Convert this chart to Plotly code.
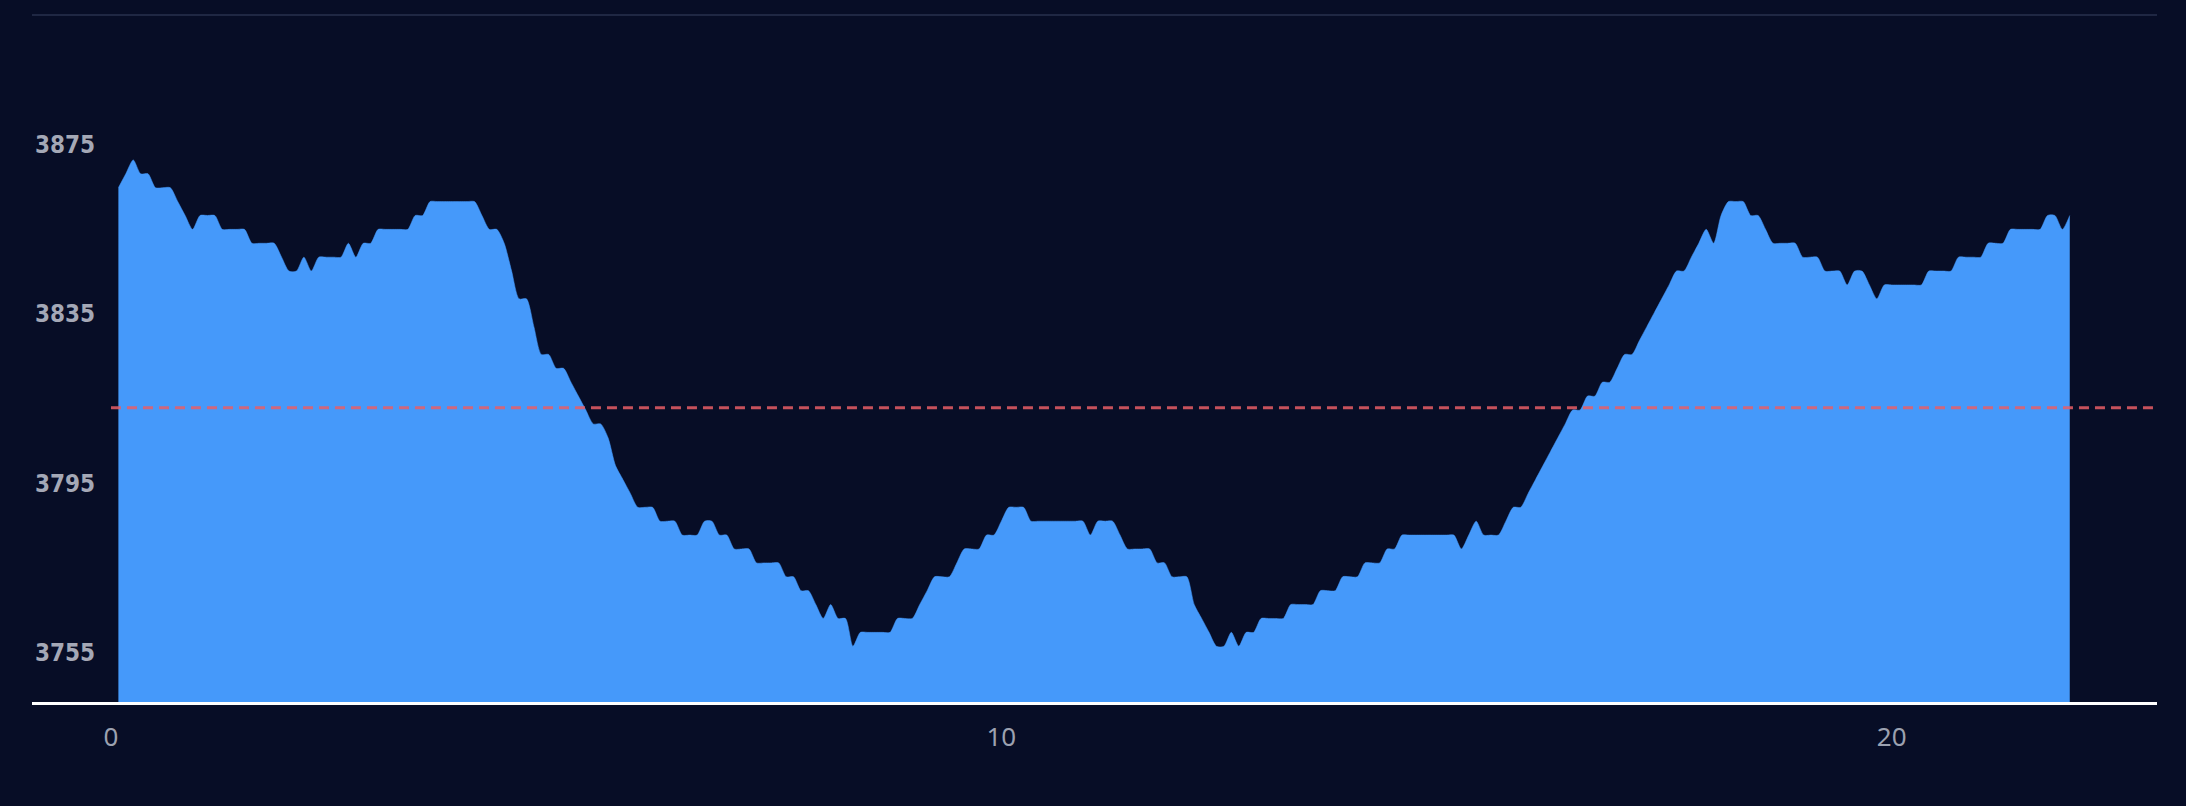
import plotly.graph_objects as go

# Elevation track, one reading every 5 minutes (metres above sea level)
elevation_m = [
    1178, 1179, 1180, 1179, 1179, 1178, 1178, 1178, 1177, 1176,
    1175, 1176, 1176, 1176, 1175, 1175, 1175, 1175, 1174, 1174,
    1174, 1174, 1173, 1172, 1172, 1173, 1172, 1173, 1173, 1173,
    1173, 1174, 1173, 1174, 1174, 1175, 1175, 1175, 1175, 1175,
    1176, 1176, 1177, 1177, 1177, 1177, 1177, 1177, 1177, 1176,
    1175, 1175, 1174, 1172, 1170, 1170, 1168, 1166, 1166, 1165,
    1165, 1164, 1163, 1162, 1161, 1161, 1160, 1158, 1157, 1156,
    1155, 1155, 1155, 1154, 1154, 1154, 1153, 1153, 1153, 1154,
    1154, 1153, 1153, 1152, 1152, 1152, 1151, 1151, 1151, 1151,
    1150, 1150, 1149, 1149, 1148, 1147, 1148, 1147, 1147, 1145,
    1146, 1146, 1146, 1146, 1146, 1147, 1147, 1147, 1148, 1149,
    1150, 1150, 1150, 1151, 1152, 1152, 1152, 1153, 1153, 1154,
    1155, 1155, 1155, 1154, 1154, 1154, 1154, 1154, 1154, 1154,
    1154, 1153, 1154, 1154, 1154, 1153, 1152, 1152, 1152, 1152,
    1151, 1151, 1150, 1150, 1150, 1148, 1147, 1146, 1145, 1145,
    1146, 1145, 1146, 1146, 1147, 1147, 1147, 1147, 1148, 1148,
    1148, 1148, 1149, 1149, 1149, 1150, 1150, 1150, 1151, 1151,
    1151, 1152, 1152, 1153, 1153, 1153, 1153, 1153, 1153, 1153,
    1153, 1152, 1153, 1154, 1153, 1153, 1153, 1154, 1155, 1155,
    1156, 1157, 1158, 1159, 1160, 1161, 1162, 1162, 1163, 1163,
    1164, 1164, 1165, 1166, 1166, 1167, 1168, 1169, 1170, 1171,
    1172, 1172, 1173, 1174, 1175, 1174, 1176, 1177, 1177, 1177,
    1176, 1176, 1175, 1174, 1174, 1174, 1174, 1173, 1173, 1173,
    1172, 1172, 1172, 1171, 1172, 1172, 1171, 1170, 1171, 1171,
    1171, 1171, 1171, 1171, 1172, 1172, 1172, 1172, 1173, 1173,
    1173, 1173, 1174, 1174, 1174, 1175, 1175, 1175, 1175, 1175,
    1176, 1176, 1175, 1176,
]

FT_PER_M = 3.28084
elevation_ft = [m * FT_PER_M for m in elevation_m]
hours = [(k + 1) / 12 for k in range(len(elevation_m))]

reference_ft = 3812.9
y_ticks = [3755, 3795, 3835, 3875]
x_ticks = [0, 10, 20]
x_range = [-0.887, 22.98]
y_range = [3743.4, 3905.6]

BG = "#070d26"
FILL = "#4599fa"

fig = go.Figure()
fig.add_trace(go.Scatter(
    x=hours,
    y=elevation_ft,
    mode="lines",
    line=dict(color=FILL, width=0.5, shape="spline", smoothing=0.7),
    fill="tozeroy",
    fillcolor=FILL,
    hoverinfo="skip",
    showlegend=False,
))

# reference level
fig.add_shape(type="line", xref="x", yref="y",
              x0=0, x1=x_range[1], y0=reference_ft, y1=reference_ft,
              line=dict(color="rgba(232,94,102,0.85)", width=3, dash="10px,6px"),
              layer="above")
# top frame rule
fig.add_shape(type="line", xref="paper", yref="paper",
              x0=0, x1=1, y0=1, y1=1,
              line=dict(color="#1f2743", width=2), layer="below")

fig.update_layout(
    width=2186, height=806,
    margin=dict(l=32, r=29, t=15, b=104),
    paper_bgcolor=BG, plot_bgcolor=BG,
    xaxis=dict(
        range=x_range, tickvals=x_ticks, ticktext=[str(v) for v in x_ticks],
        showgrid=False, zeroline=False,
        showline=True, linecolor="#ffffff", linewidth=3,
        ticks="outside", ticklen=10, tickcolor="rgba(0,0,0,0)",
        tickfont=dict(family="Noto Sans, Open Sans, sans-serif", size=26, color="#9ca1b0"),
    ),
    yaxis=dict(
        range=y_range, tickvals=y_ticks, ticktext=[str(v) for v in y_ticks],
        showgrid=False, zeroline=False, showline=False,
        ticks="", ticklabelposition="inside",
        tickfont=dict(family="DejaVu Sans Condensed, sans-serif",
                      size=24, color="#a4a8b6", weight="bold"),
    ),
)

fig.write_html("out.html")
